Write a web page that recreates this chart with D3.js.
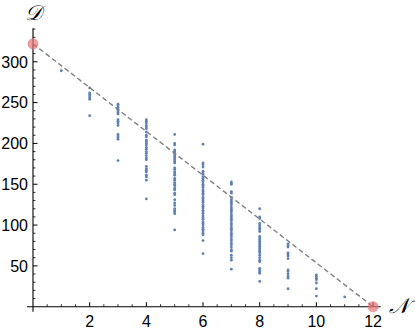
<!DOCTYPE html>
<html>
<head>
<meta charset="utf-8">
<script src="https://cdn.jsdelivr.net/npm/d3@7"></script>
<style>
  body { margin: 0; background: #fff; }
  svg { display: block; }
  .tick-label { font-family: "Liberation Sans", Arial, sans-serif; font-size: 16px; fill: #000; }
  .axis-name { font-family: "DejaVu Serif", serif; font-size: 21px; font-style: italic; fill: #000; }
</style>
</head>
<body>
<div id="chart"></div>
<script>
//-----------------------------DATA-----------------------------//
// D values read off each vertical strip, keyed by N
const n1 = [289];
const n2 = [268, 262, 260, 258, 256, 254, 234];
const n3 = [248, 246, 244, 242, 240, 238, 236, 229, 227, 225, 222, 211, 209, 207, 205, 179];
const n4 = [229, 227, 225, 222, 220, 218, 214, 210, 208, 204, 202, 200, 198, 195, 193, 190, 188, 185, 182, 180,
            172, 169, 167, 165, 161, 159, 155, 132];
const n5 = [211, 200, 198, 192, 190, 188, 186, 184, 182, 180, 178, 176, 170, 168, 165, 163, 161, 157, 155, 152,
            150, 148, 145, 143, 139, 137, 131, 127, 124, 120, 118, 116, 114, 94];
const n6 = [199, 176, 174, 171, 166, 164, 162, 159, 157, 155, 153, 150, 148, 146, 143, 141, 139, 137, 134, 132,
            130, 128, 125, 123, 121, 118, 116, 114, 111, 109, 107, 104, 102, 100, 97, 95, 93, 90, 88, 81, 65];
const n7 = [153, 151, 150, 141, 139, 134, 131, 129, 127, 125, 122, 120, 118, 116, 113, 111, 109, 107, 105, 102,
            100, 97, 95, 93, 90, 88, 86, 83, 81, 78, 76, 73, 70, 68, 63, 60, 57, 46];
const n8 = [120, 110, 108, 102, 100, 98, 96, 94, 92, 86, 84, 82, 80, 78, 76, 74, 72, 70, 68, 66, 63, 60, 57, 55,
            47, 45, 43, 41, 31];
const n9 = [77, 75, 73, 66, 64, 62, 59, 45, 43, 40, 37, 35, 22];
const n10 = [39, 37, 35, 33, 29, 22, 13];
const n11 = [12];
const columns = [n1, n2, n3, n4, n5, n6, n7, n8, n9, n10, n11];

// end points of the bound line
const boundN = [0, 12];
const boundD = [322, 0];

const xTicks = [2, 4, 6, 8, 10, 12];
const yTicks = [50, 100, 150, 200, 250, 300];

const points = [];
columns.forEach(function(vals, i) {
    vals.forEach(function(v) { points.push({n: i + 1, d: v}); });
});

//-----------------------------SETUP-----------------------------//
const width = 415;
const height = 332;

const svg = d3.select("#chart").append("svg")
    .attr("width", width)
    .attr("height", height);

//----------------------------SCALES----------------------------//
const xScale = d3.scaleLinear().domain([0, 12.27]).range([33, 380.7]);
const yScale = d3.scaleLinear().domain([0, 341]).range([306.7, 28.3]);

//-----------------------------AXES-----------------------------//
const x0 = xScale(0), y0 = yScale(0);

svg.append("line")
    .attr("x1", x0 - 6).attr("x2", xScale(12.27))
    .attr("y1", y0).attr("y2", y0)
    .attr("stroke", "#000").attr("stroke-width", 1.1);

svg.append("line")
    .attr("x1", x0).attr("x2", x0)
    .attr("y1", y0 + 5).attr("y2", yScale(341))
    .attr("stroke", "#000").attr("stroke-width", 1.1);

// minor ticks (every 0.5 on N, every 10 on D)
const xMinor = d3.range(0.5, 12.1, 0.5).filter(function(v) { return v % 2 !== 0; });
const yMinor = d3.range(10, 341, 10).filter(function(v) { return v % 50 !== 0; });

svg.selectAll(".xminor").data(xMinor).enter().append("line")
    .attr("x1", d => xScale(d)).attr("x2", d => xScale(d))
    .attr("y1", y0).attr("y2", y0 - 2.5)
    .attr("stroke", "#000").attr("stroke-width", 0.8);

svg.selectAll(".xmajor").data(xTicks).enter().append("line")
    .attr("x1", d => xScale(d)).attr("x2", d => xScale(d))
    .attr("y1", y0).attr("y2", y0 - 4.5)
    .attr("stroke", "#000").attr("stroke-width", 1);

svg.selectAll(".yminor").data(yMinor).enter().append("line")
    .attr("x1", x0).attr("x2", x0 + 2.5)
    .attr("y1", d => yScale(d)).attr("y2", d => yScale(d))
    .attr("stroke", "#000").attr("stroke-width", 0.8);

svg.selectAll(".ymajor").data(yTicks).enter().append("line")
    .attr("x1", x0).attr("x2", x0 + 4.5)
    .attr("y1", d => yScale(d)).attr("y2", d => yScale(d))
    .attr("stroke", "#000").attr("stroke-width", 1);

svg.selectAll(".xlab").data(xTicks).enter().append("text")
    .attr("class", "tick-label")
    .attr("x", d => xScale(d))
    .attr("y", y0 + 20.5)
    .attr("text-anchor", "middle")
    .text(d => d);

svg.selectAll(".ylab").data(yTicks).enter().append("text")
    .attr("class", "tick-label")
    .attr("x", x0 - 5)
    .attr("y", d => yScale(d))
    .attr("dy", "0.36em")
    .attr("text-anchor", "end")
    .text(d => d);

svg.append("text")
    .attr("class", "axis-name")
    .attr("x", 33).attr("y", 20)
    .attr("text-anchor", "middle")
    .text("\u{1D49F}");

svg.append("text")
    .attr("class", "axis-name")
    .attr("x", 399).attr("y", 313)
    .attr("text-anchor", "middle")
    .text("\u{1D4A9}");

//----------------------------POINTS----------------------------//
svg.selectAll(".pt").data(points).enter().append("circle")
    .attr("cx", d => xScale(d.n))
    .attr("cy", d => yScale(d.d))
    .attr("r", 1.4)
    .attr("fill", "#5e81b5");

//----------------------------BOUND-----------------------------//
const line = d3.line()
    .x(d => xScale(d[0]))
    .y(d => yScale(d[1]));

svg.append("path")
    .attr("d", line(d3.zip(boundN, boundD)))
    .attr("fill", "none")
    .attr("stroke", "#808080")
    .attr("stroke-width", 1.4)
    .attr("stroke-dasharray", "5,3");

svg.selectAll(".end").data(d3.zip(boundN, boundD)).enter().append("circle")
    .attr("cx", d => xScale(d[0]))
    .attr("cy", d => yScale(d[1]))
    .attr("r", 5.5)
    .attr("fill", "#e57373")
    .attr("fill-opacity", 0.7);
</script>
</body>
</html>
